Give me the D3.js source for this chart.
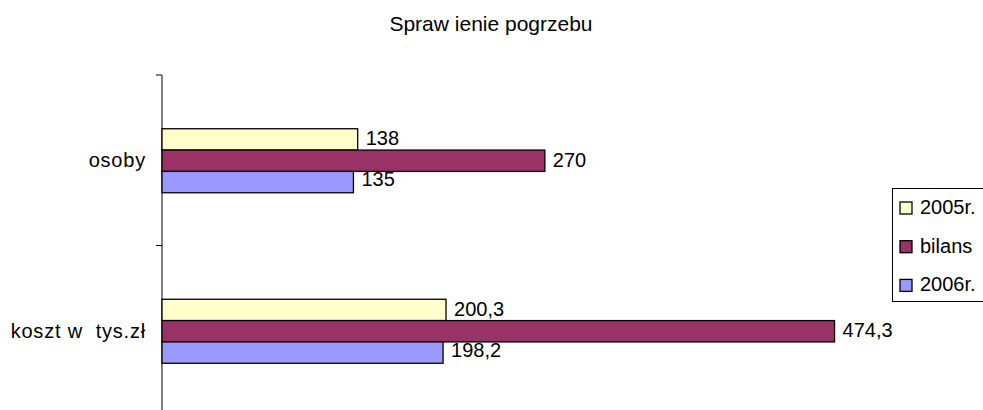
<!DOCTYPE html>
<html>
<head>
<meta charset="utf-8">
<script src="https://cdn.jsdelivr.net/npm/d3@7"></script>
<style>
  body { margin: 0; background: #fff; }
  text { font-family: "Liberation Sans", Arial, sans-serif; fill: #000; white-space: pre; }
</style>
</head>
<body>
<svg id="chart" width="983" height="410"></svg>
<script>
var categories = ["osoby", "koszt w  tys.zł"];
var seriesNames = ["2005r.", "bilans", "2006r."];
var seriesColors = ["#FFFFCC", "#993366", "#9999FF"];
var values2005 = [138, 200.3];
var valuesBilans = [270, 474.3];
var values2006 = [135, 198.2];
var valueLabels = [["138", "270", "135"], ["200,3", "474,3", "198,2"]];

var svg = d3.select("#chart");

var x = d3.scaleLinear().domain([0, 500]).range([162, 871]);
var y = d3.scaleBand().domain(categories).range([75, 416]);
var inner = d3.scaleBand().domain(seriesNames).range([0, 64]);

var series = [values2005, valuesBilans, values2006];

// title
svg.append("text")
    .attr("x", 491)
    .attr("y", 31)
    .attr("text-anchor", "middle")
    .style("font-size", "21px")
    .text("Spraw ienie pogrzebu");

// category axis
var gAxis = svg.append("g").attr("transform", "translate(162,0)");
gAxis.append("line")
    .attr("x1", 0).attr("x2", 0)
    .attr("y1", 75).attr("y2", 416)
    .attr("stroke", "#000");
var edges = [75].concat(categories.map(function (c) { return y(c) + y.bandwidth(); }));
gAxis.selectAll(".tick")
    .data(edges)
    .enter().append("line")
    .attr("x1", -6).attr("x2", 0)
    .attr("y1", function (d) { return d; })
    .attr("y2", function (d) { return d; })
    .attr("stroke", "#000");

svg.selectAll(".cat")
    .data(categories)
    .enter().append("text")
    .attr("class", "cat")
    .attr("x", 146)
    .attr("y", function (d) { return y(d) + y.bandwidth() / 2; })
    .attr("dy", "0.35em")
    .attr("text-anchor", "end")
    .style("font-size", "20px")
    .style("letter-spacing", "0.8px")
    .text(function (d) { return d; });

// bars
var groups = svg.selectAll(".grp")
    .data(categories)
    .enter().append("g")
    .attr("class", "grp")
    .attr("transform", function (d) {
        return "translate(0," + (y(d) + y.bandwidth() / 2 - 31.5) + ")";
    });

groups.each(function (cat, ci) {
    var g = d3.select(this);
    seriesNames.forEach(function (s, si) {
        var v = series[si][ci];
        g.append("rect")
            .attr("x", x(0))
            .attr("y", inner(s))
            .attr("width", x(v) - x(0))
            .attr("height", inner.bandwidth())
            .attr("fill", seriesColors[si])
            .attr("stroke", "#000")
            .attr("stroke-width", 1.3);
        g.append("text")
            .attr("x", x(v) + 8)
            .attr("y", inner(s) + inner.bandwidth() / 2 - (si == 2 ? 3 : 1))
            .attr("dy", "0.35em")
            .style("font-size", "20px")
            .text(valueLabels[ci][si]);
    });
});

// legend
var legend = svg.append("g").attr("transform", "translate(892,188)");
legend.append("rect")
    .attr("x", 0.5).attr("y", 0.5)
    .attr("width", 100).attr("height", 113)
    .attr("fill", "#fff")
    .attr("stroke", "#000");
seriesNames.forEach(function (s, i) {
    var cy = 19 + i * 38.7;
    legend.append("rect")
        .attr("x", 8).attr("y", cy - 5)
        .attr("width", 12).attr("height", 12)
        .attr("fill", seriesColors[i])
        .attr("stroke", "#000")
        .attr("stroke-width", 1.3);
    legend.append("text")
        .attr("x", 28).attr("y", cy)
        .attr("dy", "0.35em")
        .style("font-size", "20px")
        .text(s);
});
</script>
</body>
</html>
